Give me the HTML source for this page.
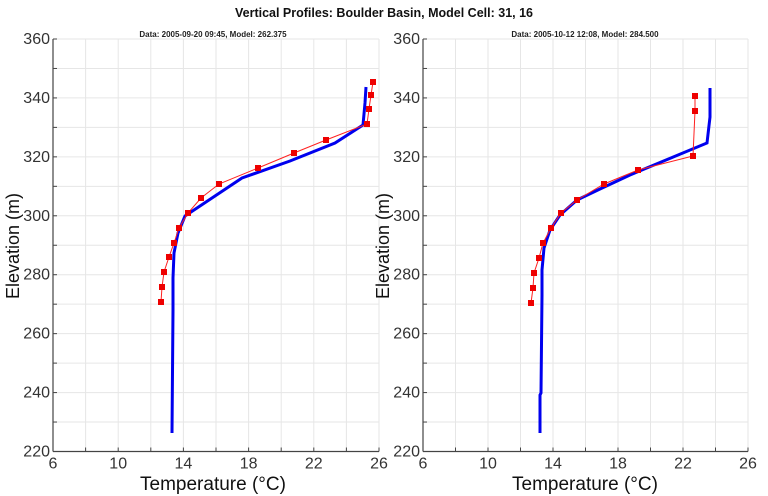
<!DOCTYPE html>
<html><head><meta charset="utf-8"><style>
html,body{margin:0;padding:0;background:#fff;}
svg{display:block;font-family:"Liberation Sans",Arial,sans-serif;}
</style></head><body>
<svg id="s" width="768" height="496" viewBox="0 0 768 496" xmlns="http://www.w3.org/2000/svg">
<rect width="768" height="496" fill="#fff"/>
<g id="grid"></g>
<text x="384" y="17" font-size="12.5" font-weight="bold" text-anchor="middle" fill="#111">Vertical Profiles: Boulder Basin, Model Cell: 31, 16</text>
<text x="213" y="37" font-size="8" font-weight="bold" text-anchor="middle" fill="#222">Data: 2005-09-20 09:45, Model: 262.375</text>
<text x="585" y="37" font-size="8" font-weight="bold" text-anchor="middle" fill="#222">Data: 2005-10-12 12:08, Model: 284.500</text>
<g font-size="16" fill="#333" text-anchor="end" id="ylab"></g>
<g font-size="16" fill="#333" text-anchor="middle" id="xlab"></g>
<text x="213" y="490" font-size="19" text-anchor="middle" fill="#111">Temperature (°C)</text>
<text x="585" y="490" font-size="19" text-anchor="middle" fill="#111">Temperature (°C)</text>
<text transform="translate(19,246) rotate(-90)" font-size="18" text-anchor="middle" fill="#111">Elevation (m)</text>
<text transform="translate(389,246) rotate(-90)" font-size="18" text-anchor="middle" fill="#111">Elevation (m)</text>

<polyline fill="none" stroke="#0000ee" stroke-width="3" points="366,87 365,103 363,125 335,143 290,161 242,178 185,216 178,233 174,253 173,278 173,310 172,433"/>
<polyline fill="none" stroke="#ff2020" stroke-width="1" points="373,82 371,95 369,109 367,124 326,140 294,153 258,168 219,184 201,198 188,213 179,228 174,243 169,257 164,272 162,287 161,302"/>
<g fill="#ee0000" id="m1"></g>

<polyline fill="none" stroke="#0000ee" stroke-width="3" points="710,88 710,117 707,143 630,175 600,189 577,200 560,215 550,230 544,248 542,270 542,295 541,393 540,395 540,433"/>
<polyline fill="none" stroke="#ff2020" stroke-width="1" points="695,96 695,111 693,156 638,170 604,184 577,200 561,213 551,228 543,243 539,258 534,273 533,288 531,303"/>
<g fill="#ee0000" id="m2"></g>
</svg>
<script>
var NS="http://www.w3.org/2000/svg";
function el(p,t,a,txt){var e=document.createElementNS(NS,t);for(var k in a)e.setAttribute(k,a[k]);if(txt)e.textContent=txt;document.getElementById(p).appendChild(e);}
var y0=39,y1=451.5;
[[53,379],[423,748]].forEach(function(px){
  var x0=px[0],x1=px[1];
  for(var i=1;i<=10;i++){var x=x0+(x1-x0)*i/10;el("grid","line",{x1:x,x2:x,y1:y0,y2:y1,stroke:"#e6e6e6","stroke-width":1});}
  for(var j=0;j<14;j++){var y=y0+(y1-y0)*j/14;el("grid","line",{x1:x0,x2:x1,y1:y,y2:y,stroke:"#e6e6e6","stroke-width":1});}
  el("grid","line",{x1:x0,x2:x0,y1:y0,y2:y1,stroke:"#444","stroke-width":1.2});
  el("grid","line",{x1:x0,x2:x1,y1:y1,y2:y1,stroke:"#444","stroke-width":1.2});
  for(var i=0;i<=10;i++){var x=x0+(x1-x0)*i/10;el("grid","line",{x1:x,x2:x,y1:y1,y2:y1-4,stroke:"#444"});}
  for(var j=0;j<=14;j++){var y=y0+(y1-y0)*j/14;el("grid","line",{x1:x0,x2:x0+4,y1:y,y2:y,stroke:"#444"});}
  for(var j=0;j<=7;j++){var y=y0+(y1-y0)*j/7;el("ylab","text",{x:x0-3,y:y+5},String(360-20*j));}
  for(var i=0;i<=5;i++){var x=x0+(x1-x0)*i/5;el("xlab","text",{x:x,y:y1+17},String(6+4*i));}
});
function marks(id,pts){pts.forEach(function(p){el(id,"rect",{x:p[0]-3,y:p[1]-3,width:6,height:6});});}
marks("m1",[[373,82],[371,95],[369,109],[367,124],[326,140],[294,153],[258,168],[219,184],[201,198],[188,213],[179,228],[174,243],[169,257],[164,272],[162,287],[161,302]]);
marks("m2",[[695,96],[695,111],[693,156],[638,170],[604,184],[577,200],[561,213],[551,228],[543,243],[539,258],[534,273],[533,288],[531,303]]);
</script>
</body></html>
